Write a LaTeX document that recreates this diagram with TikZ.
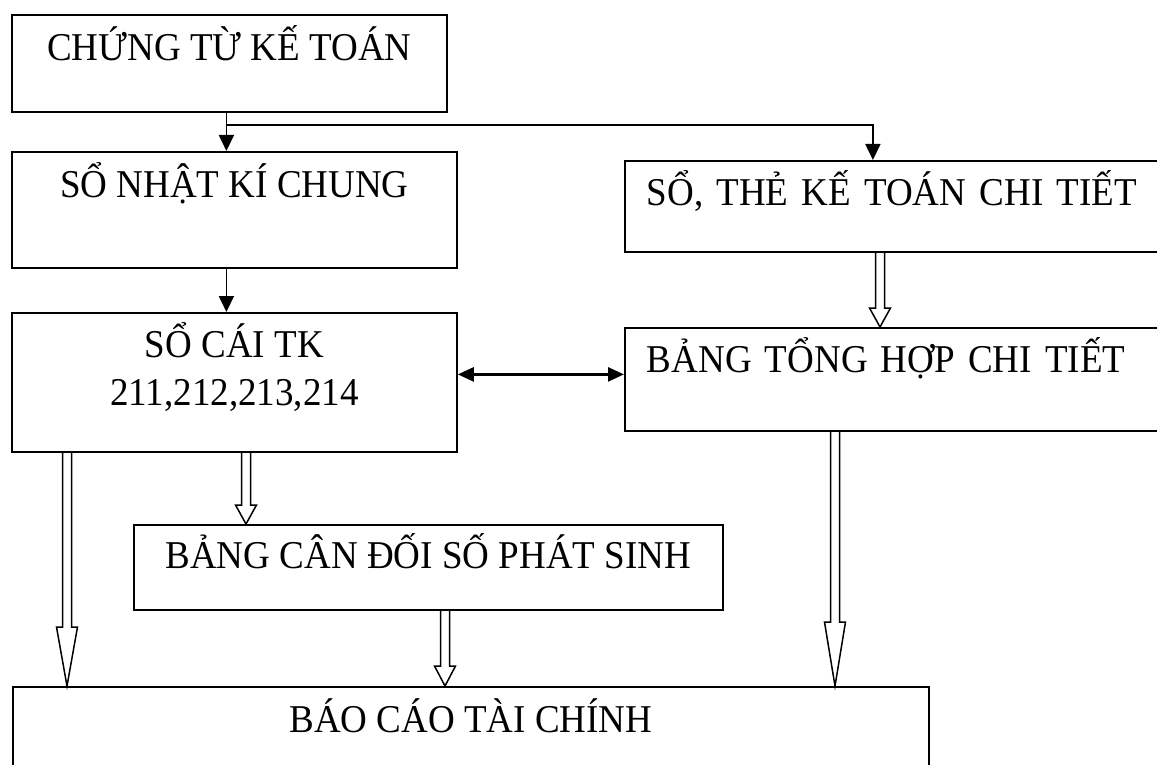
\documentclass[tikz,border=0pt]{standalone}
\usepackage{fontspec}
\setmainfont{Liberation Serif}[FakeStretch=0.94]
\usetikzlibrary{arrows.meta,calc}

\newcommand{\fatarrow}[4]{%
  \draw[fat] let \p1=(#2.south), \p2=(#3.north) in
    (#1pt-4.5pt,\y1) -- (#1pt-4.5pt,\y2+#4pt) -- (#1pt-10.5pt,\y2+#4pt) -- (#1pt,\y2)
    -- (#1pt+10.5pt,\y2+#4pt) -- (#1pt+4.5pt,\y2+#4pt) -- (#1pt+4.5pt,\y1);
}

\begin{document}
\begin{tikzpicture}[x=1pt,y=-1pt,
  box/.style={draw, line width=1.8pt, inner sep=0pt, anchor=north west, font=\fontsize{39.4}{48}\selectfont},
  leftbox/.style={box, text width=496pt, inner xsep=22pt, align=left},
  arr/.style={line width=1.8pt, -{Triangle[length=16pt,width=15pt]}},
  fat/.style={line width=1.5pt, line join=miter}]
  \useasboundingbox (0,0) rectangle (1157,765);
  \node[box, minimum width=435pt, text height=46pt, text depth=51pt] (ct) at (11,14) {CHỨNG TỪ KẾ TOÁN};
  \node[box, minimum width=445pt, text height=46pt, text depth=70pt] (nkc) at (11,151) {SỔ NHẬT KÍ CHUNG};
  \node[leftbox, text height=45pt, text depth=46pt] (stct) at (624,160) {SỔ, THẺ KẾ TOÁN CHI TIẾT};
  \node[box, minimum width=445pt, align=center, text height=93pt, text depth=46pt] (sc) at (11,312) {SỔ CÁI TK\\211,212,213,214};
  \node[leftbox, text height=45pt, text depth=58pt] (bth) at (624,327) {BẢNG TỔNG HỢP CHI TIẾT};
  \node[box, minimum width=589pt, text height=44pt, text depth=41pt] (bcd) at (133,524) {BẢNG CÂN ĐỐI SỐ PHÁT SINH};
  \node[box, minimum width=916pt, text height=46pt, text depth=100pt] (bctc) at (12,686) {BÁO CÁO TÀI CHÍNH};

  \coordinate (ctout) at ([xshift=-3pt]ct.south);
  \coordinate (br) at ([yshift=-12pt]ctout);
  \draw[arr] (ctout) -- (ctout |- nkc.north);
  \draw[arr] (br) -| ([xshift=-22pt]stct.north);
  \draw[arr] (ctout |- nkc.south) -- (ctout |- sc.north);
  \coordinate (lk) at ([yshift=8pt]sc.east);
  \draw[line width=2.6pt, {Triangle[length=16pt,width=14pt]}-{Triangle[length=16pt,width=14pt]}] (lk) -- (lk -| bth.west);

  \fatarrow{880}{stct}{bth}{19}
  \fatarrow{246}{sc}{bcd}{19}
  \fatarrow{67}{sc}{bctc}{59}
  \fatarrow{445}{bcd}{bctc}{20}
  \fatarrow{835}{bth}{bctc}{64}
\end{tikzpicture}
\end{document}
